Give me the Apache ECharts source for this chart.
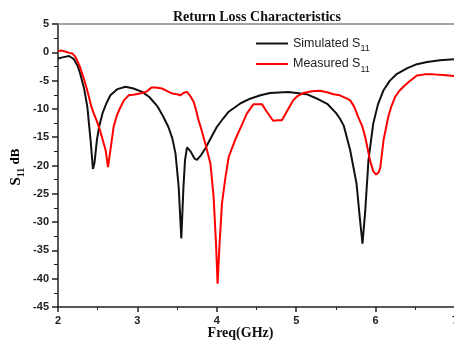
<!DOCTYPE html>
<html>
<head>
<meta charset="utf-8">
<script src="https://cdn.jsdelivr.net/npm/echarts@6/dist/echarts.min.js"></script>
<style>
    html, body { margin: 0; padding: 0; background: #fff; }
    #chart { width: 454px; height: 345px; }
</style>
</head>
<body>
<div id="chart"></div>
<script>
// 数据
const simFreq = [2.00, 2.07, 2.14, 2.20, 2.25, 2.28, 2.33, 2.37, 2.41, 2.44, 2.46, 2.49, 2.52, 2.56, 2.61, 2.66, 2.75, 2.85, 2.95, 3.06,
    3.15, 3.25, 3.32, 3.39, 3.44, 3.48, 3.52, 3.553, 3.58, 3.60, 3.625, 3.67, 3.72, 3.75, 3.80, 3.855, 3.93, 4.00, 4.08, 4.15,
    4.30, 4.42, 4.55, 4.67, 4.90, 5.13, 5.28, 5.39, 5.50, 5.55, 5.60, 5.68, 5.76, 5.80, 5.835, 5.87, 5.91, 5.97, 6.03, 6.10,
    6.18, 6.27, 6.40, 6.52, 6.65, 6.81, 7.00];
const simDb = [-1.1, -0.85, -0.65, -1.2, -2.5, -3.8, -6.5, -9.7, -15.5, -20.6, -19.5, -15.5, -13.0, -10.8, -9.0, -7.6, -6.5, -6.1, -6.4, -7.0,
    -7.9, -9.5, -11.2, -13.2, -15.2, -17.9, -23.8, -32.9, -23.8, -19.0, -16.8, -17.5, -18.8, -19.0, -18.2, -17.0, -15.0, -13.2, -11.7, -10.5,
    -9.0, -8.2, -7.6, -7.2, -7.0, -7.4, -8.3, -9.1, -10.7, -11.7, -13.0, -17.3, -23.2, -29.1, -33.8, -27.9, -19.1, -12.6, -9.2, -6.7,
    -5.0, -3.8, -2.8, -2.1, -1.7, -1.4, -1.2];

const measFreq = [2.00, 2.05, 2.10, 2.14, 2.18, 2.22, 2.27, 2.32, 2.36, 2.39, 2.42, 2.45, 2.49, 2.53, 2.57, 2.60, 2.63, 2.66, 2.70, 2.74,
    2.77, 2.83, 2.89, 2.95, 3.06, 3.12, 3.18, 3.23, 3.31, 3.37, 3.44, 3.50, 3.54, 3.58, 3.625, 3.66, 3.71, 3.74, 3.77, 3.81,
    3.855, 3.92, 3.96, 3.99, 4.01, 4.035, 4.065, 4.11, 4.15, 4.23, 4.30, 4.38, 4.46, 4.57, 4.63, 4.71, 4.77, 4.82, 4.90, 4.96,
    5.01, 5.09, 5.20, 5.30, 5.40, 5.47, 5.55, 5.64, 5.68, 5.73, 5.78, 5.83, 5.87, 5.93, 5.97, 6.006, 6.04, 6.06, 6.10, 6.16,
    6.20, 6.245, 6.30, 6.35, 6.42, 6.52, 6.62, 6.73, 6.85, 7.00];
const measDb = [0.25, 0.3, 0.1, -0.1, -0.2, -0.8, -2.3, -4.4, -6.3, -7.9, -9.6, -10.8, -12.2, -13.8, -15.8, -17.3, -20.3, -17.3, -13.2, -11.2,
    -10.2, -8.5, -7.6, -7.5, -7.2, -6.9, -6.2, -6.2, -6.4, -6.8, -7.3, -7.4, -7.6, -7.2, -7.0, -7.6, -8.8, -10.3, -12.0, -13.8,
    -16.1, -19.7, -25.6, -33.8, -40.9, -33.8, -26.7, -22.0, -18.5, -15.5, -13.3, -10.8, -9.2, -9.2, -10.5, -12.1, -12.0, -12.0, -10.0, -8.5,
    -7.8, -7.2, -6.9, -6.8, -7.1, -7.4, -7.6, -8.2, -8.5, -9.6, -11.4, -13.0, -15.0, -19.1, -21.0, -21.6, -21.2, -20.3, -15.5, -11.4,
    -9.5, -7.9, -6.8, -6.1, -5.2, -4.1, -3.9, -3.9, -4.0, -4.2];

const xTicks = [2, 3, 4, 5, 6, 7];
const yMin = -45, yMax = 5, yStep = 5;

const serif = '"Liberation Serif", "DejaVu Serif", serif';
const sans = '"Liberation Sans", Arial, sans-serif';

const zip = (xs, ys) => xs.map((x, i) => [x, ys[i]]);

const legendRich = {
    n: { fontFamily: sans, fontSize: 12.5, color: '#222', lineHeight: 20 },
    sub: { fontFamily: sans, fontSize: 9, color: '#222', lineHeight: 8, verticalAlign: 'bottom' },
};

const chart = echarts.init(document.getElementById('chart'));
chart.setOption({
    animation: false,
    backgroundColor: '#fff',
    title: {
        text: 'Return Loss Characteristics',
        left: 252,
        textAlign: 'center',
        top: 5,
        textStyle: { fontFamily: serif, fontWeight: 'bold', fontSize: 14, color: '#111' },
    },
    legend: {
        orient: 'vertical',
        left: 256,
        top: 37,
        padding: 0,
        icon: 'rect',
        itemWidth: 32,
        itemHeight: 2,
        itemGap: 4,
        data: ['Simulated', 'Measured'],
        formatter: name => `{n|${ name } S}{sub|11}`,
        textStyle: { rich: legendRich },
    },
    grid: { left: 58, right: -1, top: 24, bottom: 38, outerBoundsMode: 'none' },
    xAxis: [{
        type: 'value',
        min: xTicks[0],
        max: xTicks[xTicks.length - 1],
        interval: 1,
        name: 'Freq(GHz)',
        nameLocation: 'middle',
        nameGap: 19,
        nameMoveOverlap: false,
        nameTextStyle: { fontFamily: serif, fontWeight: 'bold', fontSize: 14, color: '#111', padding: [0, 32, 0, 0] },
        axisLine: { onZero: false, lineStyle: { color: '#222', width: 1.5 } },
        axisTick: { length: 5, lineStyle: { color: '#222', width: 1.5 } },
        minorTick: { show: true, splitNumber: 2, length: 3, lineStyle: { color: '#222' } },
        axisLabel: { fontFamily: sans, fontWeight: 'bold', fontSize: 11, color: '#222', margin: 8 },
        splitLine: { show: false },
    }, {
        type: 'value',
        position: 'top',
        min: 2,
        max: 7,
        axisLine: { show: true, onZero: false, lineStyle: { color: '#888', width: 1.5 } },
        axisTick: { show: false },
        axisLabel: { show: false },
        splitLine: { show: false },
    }],
    yAxis: {
        type: 'value',
        min: yMin,
        max: yMax,
        interval: yStep,
        axisLine: { show: true, onZero: false, lineStyle: { color: '#222', width: 1.5 } },
        axisTick: { length: 6, lineStyle: { color: '#222', width: 1.5 } },
        minorTick: { show: true, splitNumber: 2, length: 4, lineStyle: { color: '#222' } },
        axisLabel: { fontFamily: sans, fontWeight: 'bold', fontSize: 11, color: '#222', margin: 9 },
        splitLine: { show: false },
    },
    graphic: [{
        type: 'text',
        x: 16,
        y: 167,
        rotation: Math.PI / 2,
        style: {
            text: '{s|S}{sub|11}{d| dB}',
            align: 'center',
            verticalAlign: 'middle',
            rich: {
                s: { fontFamily: serif, fontWeight: 'bold', fontSize: 15, color: '#111', lineHeight: 20 },
                sub: { fontFamily: serif, fontWeight: 'bold', fontSize: 10, color: '#111', lineHeight: 8, verticalAlign: 'bottom' },
                d: { fontFamily: serif, fontWeight: 'bold', fontSize: 13, color: '#111', lineHeight: 20 },
            },
        },
    }],
    series: [{
        name: 'Simulated',
        type: 'line',
        symbol: 'none',
        data: zip(simFreq, simDb),
        lineStyle: { color: '#111', width: 2 },
        itemStyle: { color: '#111' },
    }, {
        name: 'Measured',
        type: 'line',
        symbol: 'none',
        data: zip(measFreq, measDb),
        lineStyle: { color: '#ff0000', width: 2 },
        itemStyle: { color: '#ff0000' },
    }],
});
</script>
</body>
</html>
